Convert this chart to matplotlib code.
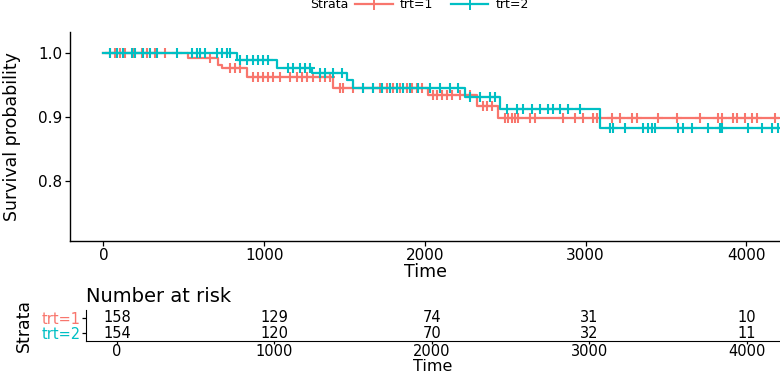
import numpy as np
import matplotlib
matplotlib.use("Agg")
import matplotlib.pyplot as plt
from matplotlib.lines import Line2D

# -----------------------
# Data
# -----------------------
strata = ["trt=1", "trt=2"]
colors = ["#F8766D", "#00BFC4"]

# Kaplan-Meier step points
red_time = [0, 526, 712, 737, 893, 1428, 2020, 2324, 2455, 4200]
red_surv = [1.0, 0.992, 0.981, 0.977, 0.963, 0.945, 0.934, 0.917, 0.899, 0.899]
teal_time = [0, 831, 1080, 1297, 1515, 1553, 2250, 2467, 3090, 4210]
teal_surv = [1.0, 0.990, 0.977, 0.969, 0.958, 0.945, 0.931, 0.912, 0.883, 0.883]

# censoring times
red_cens = [40, 72, 103, 134, 184, 240, 271, 320, 383, 663, 787, 818, 849, 930, 961,
            993, 1024, 1055, 1098, 1160, 1204, 1235, 1266, 1304, 1347, 1378, 1409,
            1472, 1490, 1552, 1615, 1677, 1721, 1764, 1802, 1845, 1889, 1920, 1951,
            1982, 2050, 2075, 2106, 2137, 2169, 2218, 2280, 2359, 2384, 2415, 2498,
            2517, 2542, 2560, 2579, 2654, 2685, 2859, 2934, 2984, 3046, 3071, 3164,
            3214, 3288, 3319, 3450, 3569, 3712, 3824, 3849, 3918, 3943, 3992, 4036,
            4067, 4179]
teal_cens = [40, 84, 121, 177, 196, 246, 289, 333, 457, 551, 582, 600, 632, 706, 737,
             768, 787, 849, 893, 930, 961, 993, 1024, 1148, 1179, 1223, 1254, 1285,
             1347, 1378, 1428, 1484, 1615, 1677, 1733, 1783, 1826, 1864, 1907, 1957,
             2032, 2094, 2156, 2206, 2280, 2343, 2405, 2436, 2511, 2573, 2610, 2666,
             2716, 2767, 2797, 2841, 2891, 2965, 3152, 3171, 3245, 3357, 3388, 3413,
             3432, 3575, 3606, 3662, 3762, 3837, 3849, 4011, 4098, 4161, 4198]

# number at risk table
risk_times = [0, 1000, 2000, 3000, 4000]
risk_trt1 = [158, 129, 74, 31, 10]
risk_trt2 = [154, 120, 70, 32, 11]


def surv_at(times, surv, t):
    idx = np.searchsorted(times, t, side="right") - 1
    return np.asarray(surv)[idx]


fig = plt.figure(figsize=(7.8, 3.74), dpi=100)

# -----------------------
# Main survival plot
# -----------------------
ax = fig.add_axes([70 / 780, 1 - 240.7 / 374, 710 / 780, 208.7 / 374])
curves = [(red_time, red_surv, red_cens), (teal_time, teal_surv, teal_cens)]
for (t, s, c), col in zip(curves, colors):
    ax.step(t, s, where="post", color=col, lw=1.6)
    ax.plot(c, surv_at(t, s, c), ls="none", marker="+", ms=7, mew=1.5, color=col)

ax.set_xlim(-208, 4210)
ax.set_ylim(0.707, 1.033)
ax.set_xticks([0, 1000, 2000, 3000, 4000])
ax.set_yticks([0.8, 0.9, 1.0])
ax.set_yticklabels(["0.8", "0.9", "1.0"])
for sp in ["top", "right"]:
    ax.spines[sp].set_visible(False)
for sp in ["left", "bottom"]:
    ax.spines[sp].set_linewidth(1.0)
ax.tick_params(labelsize=11, colors="black", length=3.5, width=0.9, pad=2)
ax.set_xlabel("Time", fontsize=12.5, labelpad=0)
ax.set_ylabel("Survival probability", fontsize=12.5, labelpad=12)

# legend at the top: "Strata" title beside the entries
fig.text(310 / 780, 1 - 5 / 374, "Strata", fontsize=9, ha="left", va="center")
handles = [Line2D([], [], color=col, lw=1.6, marker="+", ms=8, mew=1.4) for col in colors]
fig.legend(handles, strata, loc="center left", bbox_to_anchor=(355 / 780, 1 - 5 / 374),
           ncol=2, frameon=False, fontsize=9, borderpad=0, borderaxespad=0,
           handlelength=3.0, columnspacing=1.4, handletextpad=0.6)

# -----------------------
# Risk table
# -----------------------
rx = fig.add_axes([86 / 780, 1 - 341 / 374, 694 / 780, 31 / 374])
rx.set_xlim(-197, 4210)
rx.set_ylim(2.53, 0.47)
for row, vals in enumerate([risk_trt1, risk_trt2], start=1):
    for t, v in zip(risk_times, vals):
        rx.text(t, row, str(v), ha="center", va="center", fontsize=10.5)
rx.set_yticks([1, 2])
rx.set_yticklabels(strata)
for lab, col in zip(rx.get_yticklabels(), colors):
    lab.set_color(col)
rx.set_xticks(risk_times)
for sp in ["top", "right"]:
    rx.spines[sp].set_visible(False)
rx.tick_params(axis="y", labelsize=10.5, length=3, width=0.9, pad=1)
rx.tick_params(axis="x", labelsize=10.5, length=2, width=0.9, pad=0)
rx.set_xlabel("Time", fontsize=11.5, labelpad=0)
rx.set_ylabel("Strata", fontsize=12.5, labelpad=6)
rx.set_title("Number at risk", fontsize=14, loc="left", pad=6, x=0.0)

fig.savefig("out.png", dpi=100)
